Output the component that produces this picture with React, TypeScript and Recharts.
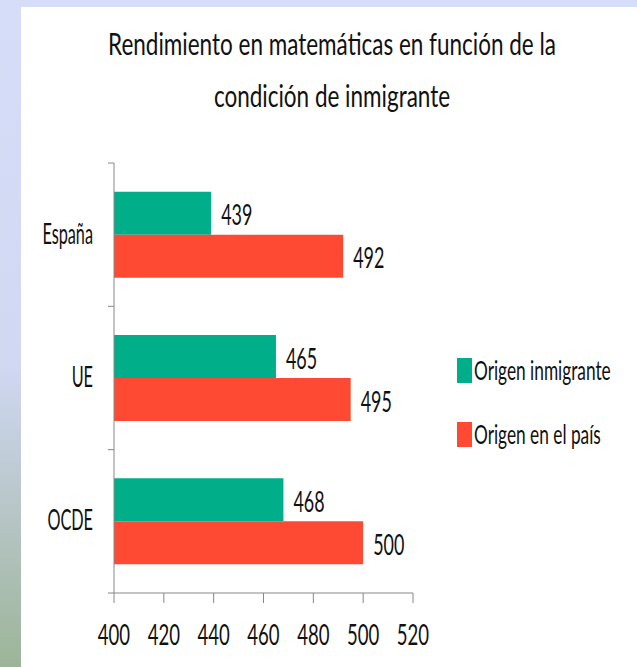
import React from 'react';
import { BarChart, Bar, XAxis, YAxis, LabelList } from 'recharts';

const regions = ['España', 'UE', 'OCDE'];
const immigrantScores = [439, 465, 468];
const nativeScores = [492, 495, 500];
const xTicks = [400, 420, 440, 460, 480, 500, 520];
const seriesNames = ['Origen inmigrante', 'Origen en el país'];
const titleLines = ['Rendimiento en matemáticas en función de la', 'condición de inmigrante'];

const data = regions.map((region, i) => ({
  region,
  immigrant: immigrantScores[i],
  native: nativeScores[i],
}));

const FONT = 'Lato, sans-serif';
const GREEN = '#00ae8a';
const RED = '#ff4a33';
const TEXT = '#111';

// the original text is tall and narrow, so squeeze glyphs horizontally
const Squeezed = ({ x, y, size, sx = 0.64, anchor = 'start', children }: any) => (
  <text
    transform={`translate(${x},${y}) scale(${sx},1)`}
    textAnchor={anchor}
    fontSize={size}
    fill={TEXT}
    fontFamily={FONT}
  >
    {children}
  </text>
);

const CategoryTick = (props: any) => {
  const { x, y, payload, index } = props;
  const half = payload.offset || 71.5;
  return (
    <g>
      <line x1={x + 2} x2={x + 8} y1={y - half} y2={y - half} stroke="#888" />
      {index === regions.length - 1 && (
        <line x1={x + 2} x2={x + 8} y1={y + half} y2={y + half} stroke="#888" />
      )}
      <Squeezed x={x - 13} y={y + 9} size={28} sx={0.58} anchor="end">
        {payload.value}
      </Squeezed>
    </g>
  );
};

const ValueTick = (props: any) => {
  const { x, y, payload } = props;
  return (
    <Squeezed x={x} y={y + 40} size={29} anchor="middle">
      {payload.value}
    </Squeezed>
  );
};

const ValueLabel = (props: any) => {
  const { x, y, width, height, value } = props;
  return (
    <Squeezed x={x + width + 10} y={y + height / 2 + 12} size={28}>
      {value}
    </Squeezed>
  );
};

export default function App() {
  return (
    <div style={{ position: 'absolute', left: 0, top: 0, width: 637, height: 667, background: '#d6ddf8', overflow: 'hidden' }}>
      <div
        style={{
          position: 'absolute', left: 0, top: 0, width: 21, height: 667,
          background: 'linear-gradient(to bottom, #d6ddf8 0%, #d0d8f2 55%, #b3c3c0 80%, #9cb598 100%)',
        }}
      />
      <div style={{ position: 'absolute', left: 21, top: 7, width: 616, height: 660, background: '#fff' }} />
      <svg width={637} height={667} style={{ position: 'absolute', left: 0, top: 0 }}>
        <Squeezed x={332} y={55} size={30} sx={0.75} anchor="middle">{titleLines[0]}</Squeezed>
        <Squeezed x={332} y={107} size={30} sx={0.75} anchor="middle">{titleLines[1]}</Squeezed>
        <rect x={457} y={358} width={15} height={25} fill={GREEN} />
        <Squeezed x={474} y={380} size={27}>{seriesNames[0]}</Squeezed>
        <rect x={457} y={422} width={15} height={25} fill={RED} />
        <Squeezed x={474} y={444} size={27}>{seriesNames[1]}</Squeezed>
      </svg>
      <div style={{ position: 'absolute', left: 0, top: 0 }}>
        <BarChart
          width={637}
          height={667}
          data={data}
          layout="vertical"
          margin={{ top: 163, right: 224, left: 24, bottom: 34 }}
          barCategoryGap="20%"
          barGap={0}
        >
          <XAxis
            type="number"
            domain={[400, 520]}
            ticks={xTicks}
            allowDataOverflow
            height={40}
            tickSize={10}
            stroke="#888"
            tick={<ValueTick />}
          />
          <YAxis
            type="category"
            dataKey="region"
            width={90}
            stroke="#888"
            tickLine={false}
            tick={<CategoryTick />}
          />
          <Bar dataKey="immigrant" name={seriesNames[0]} fill={GREEN} isAnimationActive={false}>
            <LabelList dataKey="immigrant" content={<ValueLabel />} />
          </Bar>
          <Bar dataKey="native" name={seriesNames[1]} fill={RED} isAnimationActive={false}>
            <LabelList dataKey="native" content={<ValueLabel />} />
          </Bar>
        </BarChart>
      </div>
    </div>
  );
}
